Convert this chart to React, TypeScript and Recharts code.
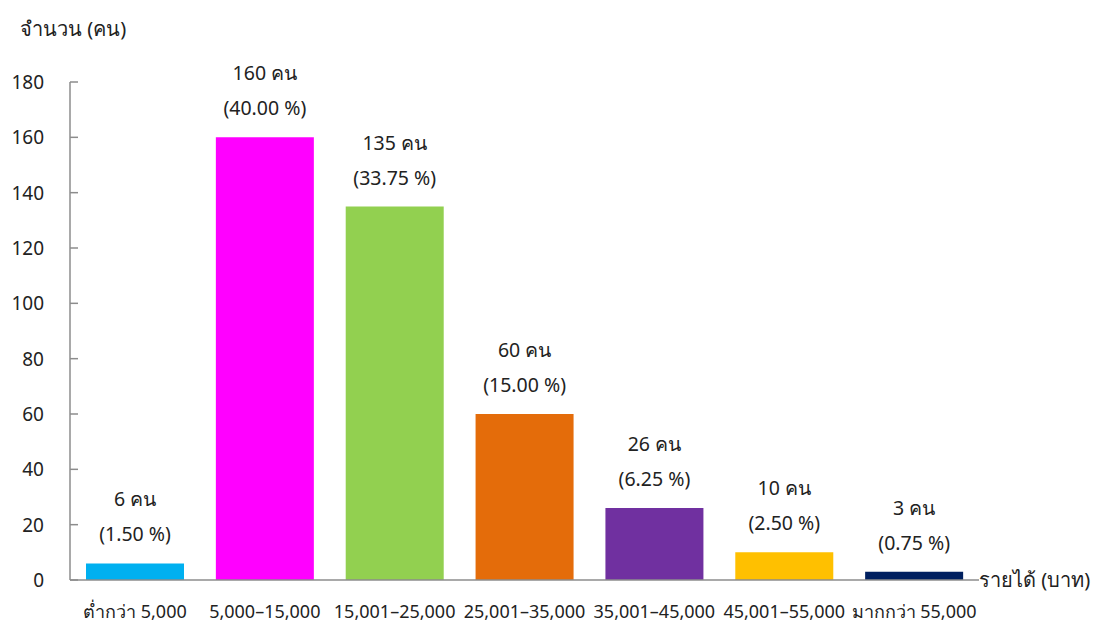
import React from "react";
import { BarChart, Bar, XAxis, YAxis, Cell, LabelList } from "recharts";

const categories = ["ต่ำกว่า 5,000", "5,000–15,000", "15,001–25,000", "25,001–35,000", "35,001–45,000", "45,001–55,000", "มากกว่า 55,000"];
const counts = [6, 160, 135, 60, 26, 10, 3];
const percents = ["1.50", "40.00", "33.75", "15.00", "6.25", "2.50", "0.75"];
const colors = ["#00B0F0", "#FF00FF", "#92D050", "#E46C0A", "#7030A0", "#FFC000", "#002060"];
const yTicks = [0, 20, 40, 60, 80, 100, 120, 140, 160, 180];

const data = categories.map((c, i) => ({ name: c, value: counts[i], pct: percents[i] }));

const FONT = "Tahoma, 'Noto Sans', 'DejaVu Sans', sans-serif";
const TXT = "#222";

const YTick = (props: any) => {
  const { x, y, payload } = props;
  return (
    <g>
      <line x1={x} y1={y} x2={x + 8} y2={y} stroke="#8c8c8c" strokeWidth={1.5} />
      <text x={x - 26} y={y} dy={7} textAnchor="end" fontSize={19} fill={TXT} fontFamily={FONT}>
        {payload.value}
      </text>
    </g>
  );
};

const XTick = (props: any) => {
  const { x, y, payload } = props;
  return (
    <text x={x} y={y} dy={38} textAnchor="middle" fontSize={18} fill={TXT} fontFamily={FONT}>
      {payload.value}
    </text>
  );
};

const TopLabel = (props: any) => {
  const { x, y, width, index } = props;
  const cx = x + width / 2;
  return (
    <g>
      <text x={cx} y={y - 57} textAnchor="middle" fontSize={19.5} fill={TXT} fontFamily={FONT}>
        {counts[index]} คน
      </text>
      <text x={cx} y={y - 22} textAnchor="middle" fontSize={19.5} fill={TXT} fontFamily={FONT}>
        ({percents[index]} %)
      </text>
    </g>
  );
};

export default function App() {
  return (
    <div style={{ position: "absolute", left: 0, top: 0, width: 1093, height: 623, background: "#fff" }}>
      <BarChart
        width={1093}
        height={623}
        data={data}
        margin={{ top: 82, right: 114, left: 0, bottom: 0 }}
      >
        <YAxis
          width={70}
          domain={[0, 180]}
          ticks={yTicks}
          interval={0}
          tickLine={false}
          tickSize={0}
          tickMargin={0}
          axisLine={{ stroke: "#8c8c8c", strokeWidth: 1.5 }}
          tick={<YTick />}
        />
        <XAxis
          dataKey="name"
          height={43}
          interval={0}
          tickLine={false}
          tickSize={0}
          tickMargin={0}
          axisLine={{ stroke: "#8c8c8c", strokeWidth: 1.5 }}
          tick={<XTick />}
        />
        <Bar dataKey="value" barSize={98} isAnimationActive={false}>
          {data.map((d, i) => (
            <Cell key={d.name} fill={colors[i]} />
          ))}
          <LabelList dataKey="value" content={<TopLabel />} />
        </Bar>
        <text x={20} y={36} fontSize={20} fill={TXT} fontFamily={FONT}>จำนวน (คน)</text>
        <text x={979} y={587} fontSize={20} fill={TXT} fontFamily={FONT}>รายได้ (บาท)</text>
      </BarChart>
    </div>
  );
}
